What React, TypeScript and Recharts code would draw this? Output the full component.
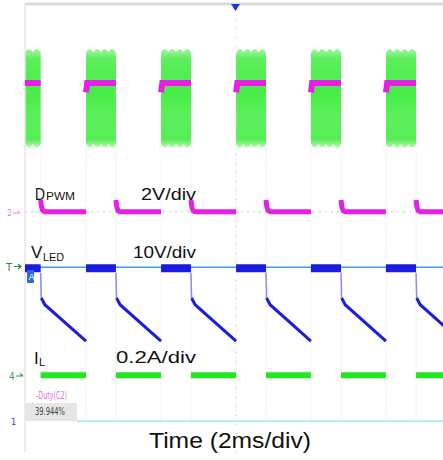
import { ComposedChart, Line, ReferenceArea, ReferenceLine, XAxis, YAxis } from "recharts";

// edge times, ms (20 ms across = 10 div x 2 ms)
const RISE_MS = [-0.67, 2.92, 6.51, 10.1, 13.68, 17.27, 20.86];
const FALL_MS = [0.75, 4.35, 7.94, 11.53, 15.12, 18.71];

// trace levels in screen divisions (+4 top, -4 bottom)
const BAND_TOP = 3.21;
const BAND_BOTTOM = 1.43;
const GATE_EDGE = 2.42;
const GATE_HIGH = 2.59;
const DPWM_LOW = 0.29;
const DPWM_KICK = [0.5, 0.38, 0.31, 0.29];
const DPWM_KICK_MS = [0, 0.04, 0.1, 0.2];
const VLED_ON = -0.72;
const VLED_DROP = [-0.8, -1.25, -1.37];
const VLED_DROP_MS = [0, 0.03, 0.2];
const VLED_END = -2.02;
const IL_OFF = -2.63;
const TRIG_LEVEL = -0.7;
const DUTY_LINE = -3.45;

const MAGENTA = "#e81ee8";
const BLUE = "#1c1ce0";
const GREEN = "#22e622";
const FONT = "'Liberation Sans', Arial, sans-serif";
const NARROW = "'Liberation Sans Narrow', 'DejaVu Sans Condensed', sans-serif";

type Pt = { t: number; v: number | null };

const gateHigh: Pt[] = [];
const vledOn: Pt[] = [];
RISE_MS.slice(0, FALL_MS.length).forEach((r, i) => {
  gateHigh.push({ t: r, v: GATE_EDGE }, { t: r + 0.06, v: GATE_HIGH }, { t: FALL_MS[i], v: GATE_HIGH }, { t: FALL_MS[i] + 0.01, v: null });
  vledOn.push({ t: r, v: VLED_ON }, { t: FALL_MS[i], v: VLED_ON }, { t: FALL_MS[i] + 0.01, v: null });
});

const dpwmLow: Pt[] = [];
const vledOff: Pt[] = [];
const vledEdge: Pt[] = [];
const ilOff: Pt[] = [];
FALL_MS.forEach((f, i) => {
  const next = RISE_MS[i + 1];
  DPWM_KICK.forEach((v, k) => dpwmLow.push({ t: f + DPWM_KICK_MS[k], v }));
  dpwmLow.push({ t: next, v: DPWM_LOW }, { t: next + 0.01, v: null });
  vledEdge.push({ t: f, v: VLED_DROP[0] }, { t: f + VLED_DROP_MS[1], v: VLED_DROP[1] }, { t: f + 0.04, v: null });
  vledOff.push({ t: f + VLED_DROP_MS[1], v: VLED_DROP[1] }, { t: f + VLED_DROP_MS[2], v: VLED_DROP[2] }, { t: next, v: VLED_END }, { t: next + 0.01, v: null });
  ilOff.push({ t: f, v: IL_OFF }, { t: next, v: IL_OFF }, { t: next + 0.01, v: null });
});

function Band(props: any) {
  const { x, y, width, height } = props;
  const n = Math.max(1, Math.round(width / 7.5));
  const w = width / n;
  let d = `M${x},${y + 4}`;
  for (let k = 0; k < n; k++) d += ` Q${x + k * w + w / 2},${y - 3} ${x + (k + 1) * w},${y + 4}`;
  d += ` L${x + width},${y + height - 4}`;
  for (let k = n; k > 0; k--) d += ` Q${x + k * w - w / 2},${y + height + 3} ${x + (k - 1) * w},${y + height - 4}`;
  d += " Z";
  return <path d={d} fill="url(#bandFill)" />;
}

export default function App() {
  return (
    <div style={{ position: "absolute", left: 0, top: 0, width: 443, height: 460, background: "#fff" }}>
      <ComposedChart width={443} height={460} margin={{ top: 4, right: 0, bottom: 8, left: 25 }}>
        <defs>
          <linearGradient id="bandFill" x1="0" y1="0" x2="0" y2="1">
            <stop offset="0%" stopColor="#a8f5a8" />
            <stop offset="10%" stopColor="#5cef5c" />
            <stop offset="45%" stopColor="#48ec48" />
            <stop offset="70%" stopColor="#5cef5c" />
            <stop offset="92%" stopColor="#55ee55" />
            <stop offset="100%" stopColor="#b8f6b8" />
          </linearGradient>
        </defs>
        <XAxis type="number" dataKey="t" domain={[0, 20]} allowDataOverflow hide />
        <YAxis type="number" dataKey="v" domain={[-4, 4]} allowDataOverflow hide />
        <ReferenceLine y={4} stroke="#dcdcdc" strokeWidth={3} />
        <ReferenceLine x={0} stroke="#e6e6e6" strokeWidth={1.5} />
        {RISE_MS.concat(FALL_MS).map((t, i) => (
          <ReferenceLine key={"e" + i} segment={[{ x: t, y: BAND_BOTTOM }, { x: t, y: DUTY_LINE }]} stroke="#f1f4fb" />
        ))}
        <ReferenceLine x={10.1} stroke="#c4c4c4" strokeDasharray="1 8" />
        <ReferenceLine y={DPWM_LOW} stroke="#c8c8c8" strokeDasharray="2 4" />
        <ReferenceLine y={TRIG_LEVEL} stroke="#3a9cf0" strokeWidth={1.5} />
        <ReferenceLine segment={[{ x: 2.49, y: DUTY_LINE }, { x: 20, y: DUTY_LINE }]} stroke="#9ee8f8" strokeWidth={1.5} />
        {FALL_MS.map((f, i) => (
          <ReferenceArea key={"b" + i} x1={Math.max(0, RISE_MS[i])} x2={f} y1={BAND_BOTTOM} y2={BAND_TOP} shape={<Band />} />
        ))}
        <Line data={gateHigh} dataKey="v" stroke={MAGENTA} strokeWidth={6} dot={false} isAnimationActive={false} />
        <Line data={dpwmLow} dataKey="v" stroke={MAGENTA} strokeWidth={5} dot={false} isAnimationActive={false} />
        <Line data={vledOn} dataKey="v" stroke={BLUE} strokeWidth={8} dot={false} isAnimationActive={false} />
        <Line data={vledEdge} dataKey="v" stroke="#8a8af0" strokeWidth={1.5} dot={false} isAnimationActive={false} />
        <Line data={vledOff} dataKey="v" stroke={BLUE} strokeWidth={3} dot={false} isAnimationActive={false} />
        <Line data={ilOff} dataKey="v" stroke={GREEN} strokeWidth={6} dot={false} isAnimationActive={false} />
      </ComposedChart>
      <svg width={443} height={460} style={{ position: "absolute", left: 0, top: 0, pointerEvents: "none" }}>
        <polygon points="231,4 240,4 235.5,11" fill="#1a3ad8" />
        <rect x={27} y={270} width={7} height={13} rx={1} fill="#2a6ae8" />
        <text x={28.5} y={280} fontSize={9} fill="#fff" fontFamily={FONT}>A</text>

        <text x={7} y={216} fontSize={9} fill="#f07af0" fontFamily={NARROW}>2</text>
        <path d="M13,213 L20,213 M17,210.5 L20,213" stroke="#f07af0" strokeWidth={1} fill="none" />
        <text x={6} y={271} fontSize={11} fill="#2a8a3a" fontFamily={NARROW}>T</text>
        <path d="M14,266.5 L21,266.5 M18,264 L21,266.5 L18,269" stroke="#2a8a3a" strokeWidth={1.2} fill="none" />
        <text x={9} y={380} fontSize={10} fill="#3a9a4a" fontFamily={NARROW}>4</text>
        <path d="M16,376 L23,376 M20,373.5 L23,376" stroke="#3a9a4a" strokeWidth={1.2} fill="none" />
        <text x={11} y={425} fontSize={9} fill="#2a3ad8" fontFamily={NARROW}>1</text>

        <text x={35} y={200} fontSize={17} fontFamily={FONT} fill="#111" textLength={10} lengthAdjust="spacingAndGlyphs">D</text>
        <text x={46} y={200} fontSize={11} fontFamily={FONT} fill="#111" textLength={29} lengthAdjust="spacingAndGlyphs">PWM</text>
        <text x={141} y={200} fontSize={17} fontFamily={FONT} fill="#111" textLength={55} lengthAdjust="spacingAndGlyphs">2V/div</text>
        <text x={31} y={258} fontSize={17} fontFamily={FONT} fill="#111">V</text>
        <text x={43} y={261} fontSize={11} fontFamily={FONT} fill="#111" textLength={21} lengthAdjust="spacingAndGlyphs">LED</text>
        <text x={133} y={258} fontSize={17} fontFamily={FONT} fill="#111" textLength={63} lengthAdjust="spacingAndGlyphs">10V/div</text>
        <text x={34} y={364} fontSize={17} fontFamily={FONT} fill="#111">I</text>
        <text x={39} y={366} fontSize={11} fontFamily={FONT} fill="#111">L</text>
        <text x={116} y={363} fontSize={17} fontFamily={FONT} fill="#111" textLength={80} lengthAdjust="spacingAndGlyphs">0.2A/div</text>

        <text x={36} y={399} fontSize={10} fontFamily={NARROW} fill="#e070e0" textLength={31} lengthAdjust="spacingAndGlyphs">-Duty(C2)</text>
        <rect x={25} y={403} width={52} height={18} fill="#e6e6e6" />
        <text x={35} y={415} fontSize={10} fontFamily={NARROW} fill="#444" textLength={30} lengthAdjust="spacingAndGlyphs">39.944%</text>

        <text x={149} y={448} fontSize={22} fontFamily={FONT} fill="#111" textLength={162} lengthAdjust="spacingAndGlyphs">Time (2ms/div)</text>
      </svg>
    </div>
  );
}
